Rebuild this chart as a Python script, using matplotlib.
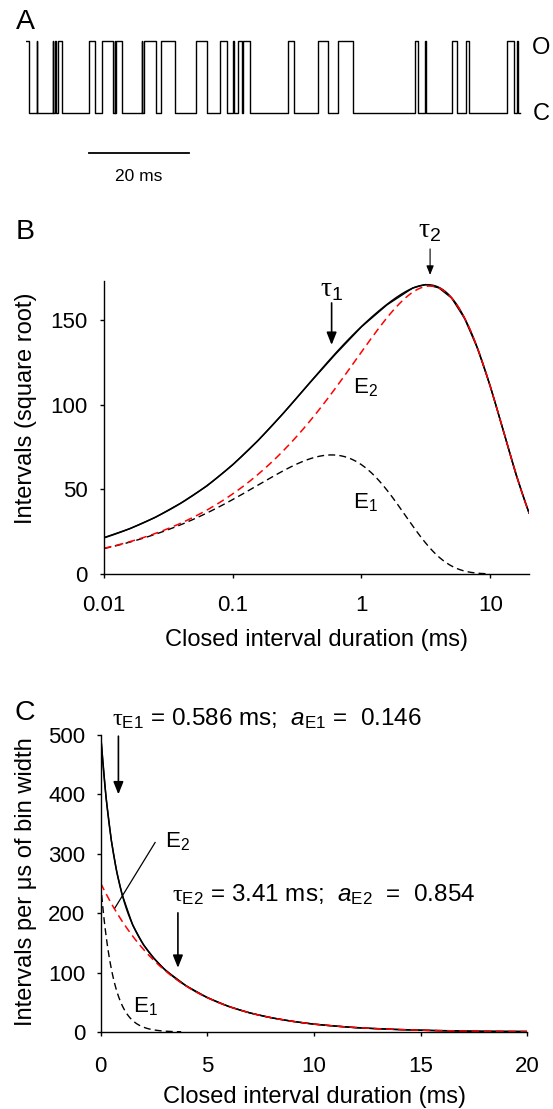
import numpy as np
import matplotlib
matplotlib.use('Agg')
import matplotlib.pyplot as plt

plt.rcParams['font.family'] = ['Liberation Sans', 'DejaVu Sans']
plt.rcParams['mathtext.fontset'] = 'custom'
plt.rcParams['mathtext.rm'] = 'Liberation Sans'
plt.rcParams['mathtext.it'] = 'Liberation Sans:italic'
plt.rcParams['mathtext.sf'] = 'Liberation Serif'
plt.rcParams['mathtext.default'] = 'regular'

# ---------------- data ----------------
# Panel A: open intervals of the single-channel record (ms)
open_start = [0.0, 2.3, 5.5, 5.95, 6.5, 12.7, 15.4, 18.0, 18.3, 23.4, 23.9, 27.35,
              34.3, 39.2, 41.85, 42.85, 43.9, 52.9, 59.0, 62.9, 78.5, 80.45, 86.0,
              88.65, 96.9, 99.0]
open_end = [0.77, 2.4, 5.6, 6.05, 7.35, 13.9, 17.7, 18.1, 19.4, 23.5, 26.3, 30.05,
            36.5, 40.5, 41.95, 43.65, 45.2, 54.1, 61.0, 66.0, 79.05, 80.65, 86.9,
            89.25, 98.3, 99.15]
record_end = 99.5
scale_bar_ms = 20
scale_bar_start = 12.85

# Two-exponential fit of the closed intervals
tau = [0.586, 3.41]          # ms
area = [0.146, 0.854]
n_intervals = 1.0e6
log_bin = 0.04               # decades per bin (panel B)
lin_bin = 0.001              # ms (per microsecond, panel C)

# Panel B histogram (square-root of counts, log-binned)
hist_b_x = [0.01, 0.0158, 0.0251, 0.0398, 0.0631, 0.1, 0.158, 0.251, 0.398, 0.631,
            1.0, 1.58, 2.51, 3.16, 3.98, 5.01, 6.31, 7.94, 10.0, 12.6, 15.8, 20.0]
hist_b_y = [21.5, 26.7, 33.5, 42, 52, 64.5, 79, 95.5, 113, 130,
            146, 159, 169, 171, 169, 163, 151, 133.5, 111, 85, 59, 36]

# Panel C histogram (intervals per us of bin width)
hist_c_x = [0, 0.25, 0.5, 0.75, 1, 1.5, 2, 2.5, 3, 4, 5, 6, 7, 8, 9, 10, 12, 14, 16, 18, 20]
hist_c_y = [500, 395, 322, 270, 232, 180, 147, 124, 105, 78, 58, 43, 32, 24, 18, 13, 7, 4, 2, 1, 1]

W, H = 553, 1109
fig = plt.figure(figsize=(W / 100, H / 100), dpi=100)


def fx(x):
    return x / W


def fy(y):
    return 1 - y / H


TICK = 16
LAB = 17
PANEL = 20.5

# ---------------- Panel A ----------------
axA = fig.add_axes([fx(25.5), fy(200), 496.5 / W, 170 / H])
xs, ys = [], []
for s, e in zip(open_start, open_end):
    xs += [s, e]
    ys += [1, 0]
xs.append(record_end)
ys.append(0)
axA.plot(xs, ys, drawstyle='steps-post', color='black', lw=1.0)
axA.set_xlim(0, 100)
axA.set_ylim(-1.2176, 1.1534)
axA.axis('off')
axA.plot([scale_bar_start, scale_bar_start + scale_bar_ms], [-0.562, -0.562], color='black', lw=1.3)
axA.text(scale_bar_start + scale_bar_ms / 2, -0.883, '%d ms' % scale_bar_ms, ha='center', va='center',
         fontsize=12.5)
fig.text(fx(541), fy(48), 'O', ha='center', va='center', fontsize=17)
fig.text(fx(541), fy(114), 'C', ha='center', va='center', fontsize=17)
fig.text(fx(25), fy(22), 'A', ha='center', va='center', fontsize=PANEL)

# ---------------- Panel B ----------------
axB = fig.add_axes([fx(104), fy(574), 425 / W, (574 - 281.1) / H])
tb = np.logspace(-2, np.log10(20), 500)
comp_b = [n_intervals * area[i] * (tb / tau[i]) * np.exp(-tb / tau[i]) * np.log(10) * log_bin
          for i in range(2)]
axB.plot(hist_b_x, hist_b_y, color='black', lw=1.0)
axB.plot(tb, np.sqrt(comp_b[0] + comp_b[1]), color='black', lw=1.1)
m1 = tb <= 10
axB.plot(tb[m1], np.sqrt(comp_b[0])[m1], color='black', lw=1.0, ls=(0, (5, 3)))
axB.plot(tb, np.sqrt(comp_b[1]), color='red', lw=1.1, ls=(0, (5, 3)))
axB.set_xscale('log')
axB.set_xlim(0.01, 20)
axB.set_ylim(0, 173)
axB.set_xticks([0.01, 0.1, 1, 10])
axB.set_xticklabels(['0.01', '0.1', '1', '10'])
axB.minorticks_off()
axB.set_yticks([0, 50, 100, 150])
for sp in ['top', 'right']:
    axB.spines[sp].set_visible(False)
for sp in ['left', 'bottom']:
    axB.spines[sp].set_linewidth(1.0)
axB.tick_params(axis='both', labelsize=TICK, length=3.0, width=1.0)
axB.tick_params(axis='x', pad=12)
axB.tick_params(axis='y', pad=9)
axB.set_xlabel('Closed interval duration (ms)', fontsize=LAB, va='center')
axB.xaxis.set_label_coords(0.5, (574 - 640) / 292.9)
axB.set_ylabel('Intervals (square root)', fontsize=LAB, va='center', ha='center')
axB.yaxis.set_label_coords((26 - 104) / 425, (574 - 408) / 292.9)

arrow_big = dict(arrowstyle='-|>,head_length=0.75,head_width=0.3', lw=1.2, color='black',
                 shrinkA=0, shrinkB=0, mutation_scale=10)
arrow_small = dict(arrowstyle='-|>,head_length=0.55,head_width=0.22', lw=0.8, color='black',
                   shrinkA=0, shrinkB=0, mutation_scale=10)
axB.annotate('', xy=(tau[0], 135.3), xytext=(tau[0], 160.1), arrowprops=arrow_big,
             annotation_clip=False)
axB.annotate('', xy=(tau[1], 176.6), xytext=(tau[1], 192), arrowprops=arrow_small,
             annotation_clip=False)
axB.text(tau[0], 167.5, r'$\mathsf{\tau}_1$', ha='center', va='center', fontsize=20, clip_on=False)
axB.text(tau[1], 202.5, r'$\mathsf{\tau}_2$', ha='center', va='center', fontsize=20, clip_on=False)
axB.text(1.07, 110, r'E$_2$', ha='center', va='center', fontsize=16)
axB.text(1.07, 42, r'E$_1$', ha='center', va='center', fontsize=16)
fig.text(fx(25), fy(232), 'B', ha='center', va='center', fontsize=PANEL)

# ---------------- Panel C ----------------
axC = fig.add_axes([fx(100.7), fy(1032), 426.6 / W, 297 / H])
tc = np.linspace(0, 20, 600)
comp_c = [n_intervals * area[i] / tau[i] * np.exp(-tc / tau[i]) * lin_bin for i in range(2)]
axC.plot(hist_c_x, hist_c_y, color='black', lw=1.0)
axC.plot(tc, comp_c[0] + comp_c[1], color='black', lw=1.1)
m2 = tc <= 3.8
axC.plot(tc[m2], comp_c[0][m2], color='black', lw=1.0, ls=(0, (5, 3)))
axC.plot(tc, comp_c[1], color='red', lw=1.1, ls=(0, (5, 3)))
axC.set_xlim(0, 20)
axC.set_ylim(0, 500)
axC.set_xticks([0, 5, 10, 15, 20])
axC.set_yticks([0, 100, 200, 300, 400, 500])
for sp in ['top', 'right']:
    axC.spines[sp].set_visible(False)
for sp in ['left', 'bottom']:
    axC.spines[sp].set_linewidth(1.0)
axC.tick_params(axis='both', labelsize=TICK, length=3.0, width=1.0)
axC.tick_params(axis='x', pad=14)
axC.tick_params(axis='y', pad=8)
axC.set_xlabel('Closed interval duration (ms)', fontsize=LAB, va='center')
axC.xaxis.set_label_coords(0.5, (1032 - 1097) / 297)
axC.set_ylabel('Intervals per μs of bin width', fontsize=LAB, va='center', ha='center')
axC.yaxis.set_label_coords((26 - 100.7) / 426.6, (1032 - 882) / 297)

axC.text(0.53, 527, r'$\mathsf{\tau}_{E1}$ = 0.586 ms;  $\mathit{a}_{E1}$ =  %.3f' % area[0],
         ha='left', va='center', fontsize=17.5, clip_on=False)
axC.text(3.34, 232, r'$\mathsf{\tau}_{E2}$ = 3.41 ms;  $\mathit{a}_{E2}$  =  %.3f' % area[1],
         ha='left', va='center', fontsize=17.5, clip_on=False)
axC.annotate('', xy=(0.83, 400), xytext=(0.83, 498), arrowprops=arrow_big, annotation_clip=False)
axC.annotate('', xy=(3.62, 108), xytext=(3.62, 200.6), arrowprops=arrow_big, annotation_clip=False)
axC.plot([2.55, 0.67], [319, 209], color='black', lw=0.9)
axC.text(3.58, 320, r'E$_2$', ha='center', va='center', fontsize=16)
axC.text(2.08, 42, r'E$_1$', ha='center', va='center', fontsize=16)
fig.text(fx(25), fy(713), 'C', ha='center', va='center', fontsize=PANEL)

fig.savefig('out.png', dpi=100)
